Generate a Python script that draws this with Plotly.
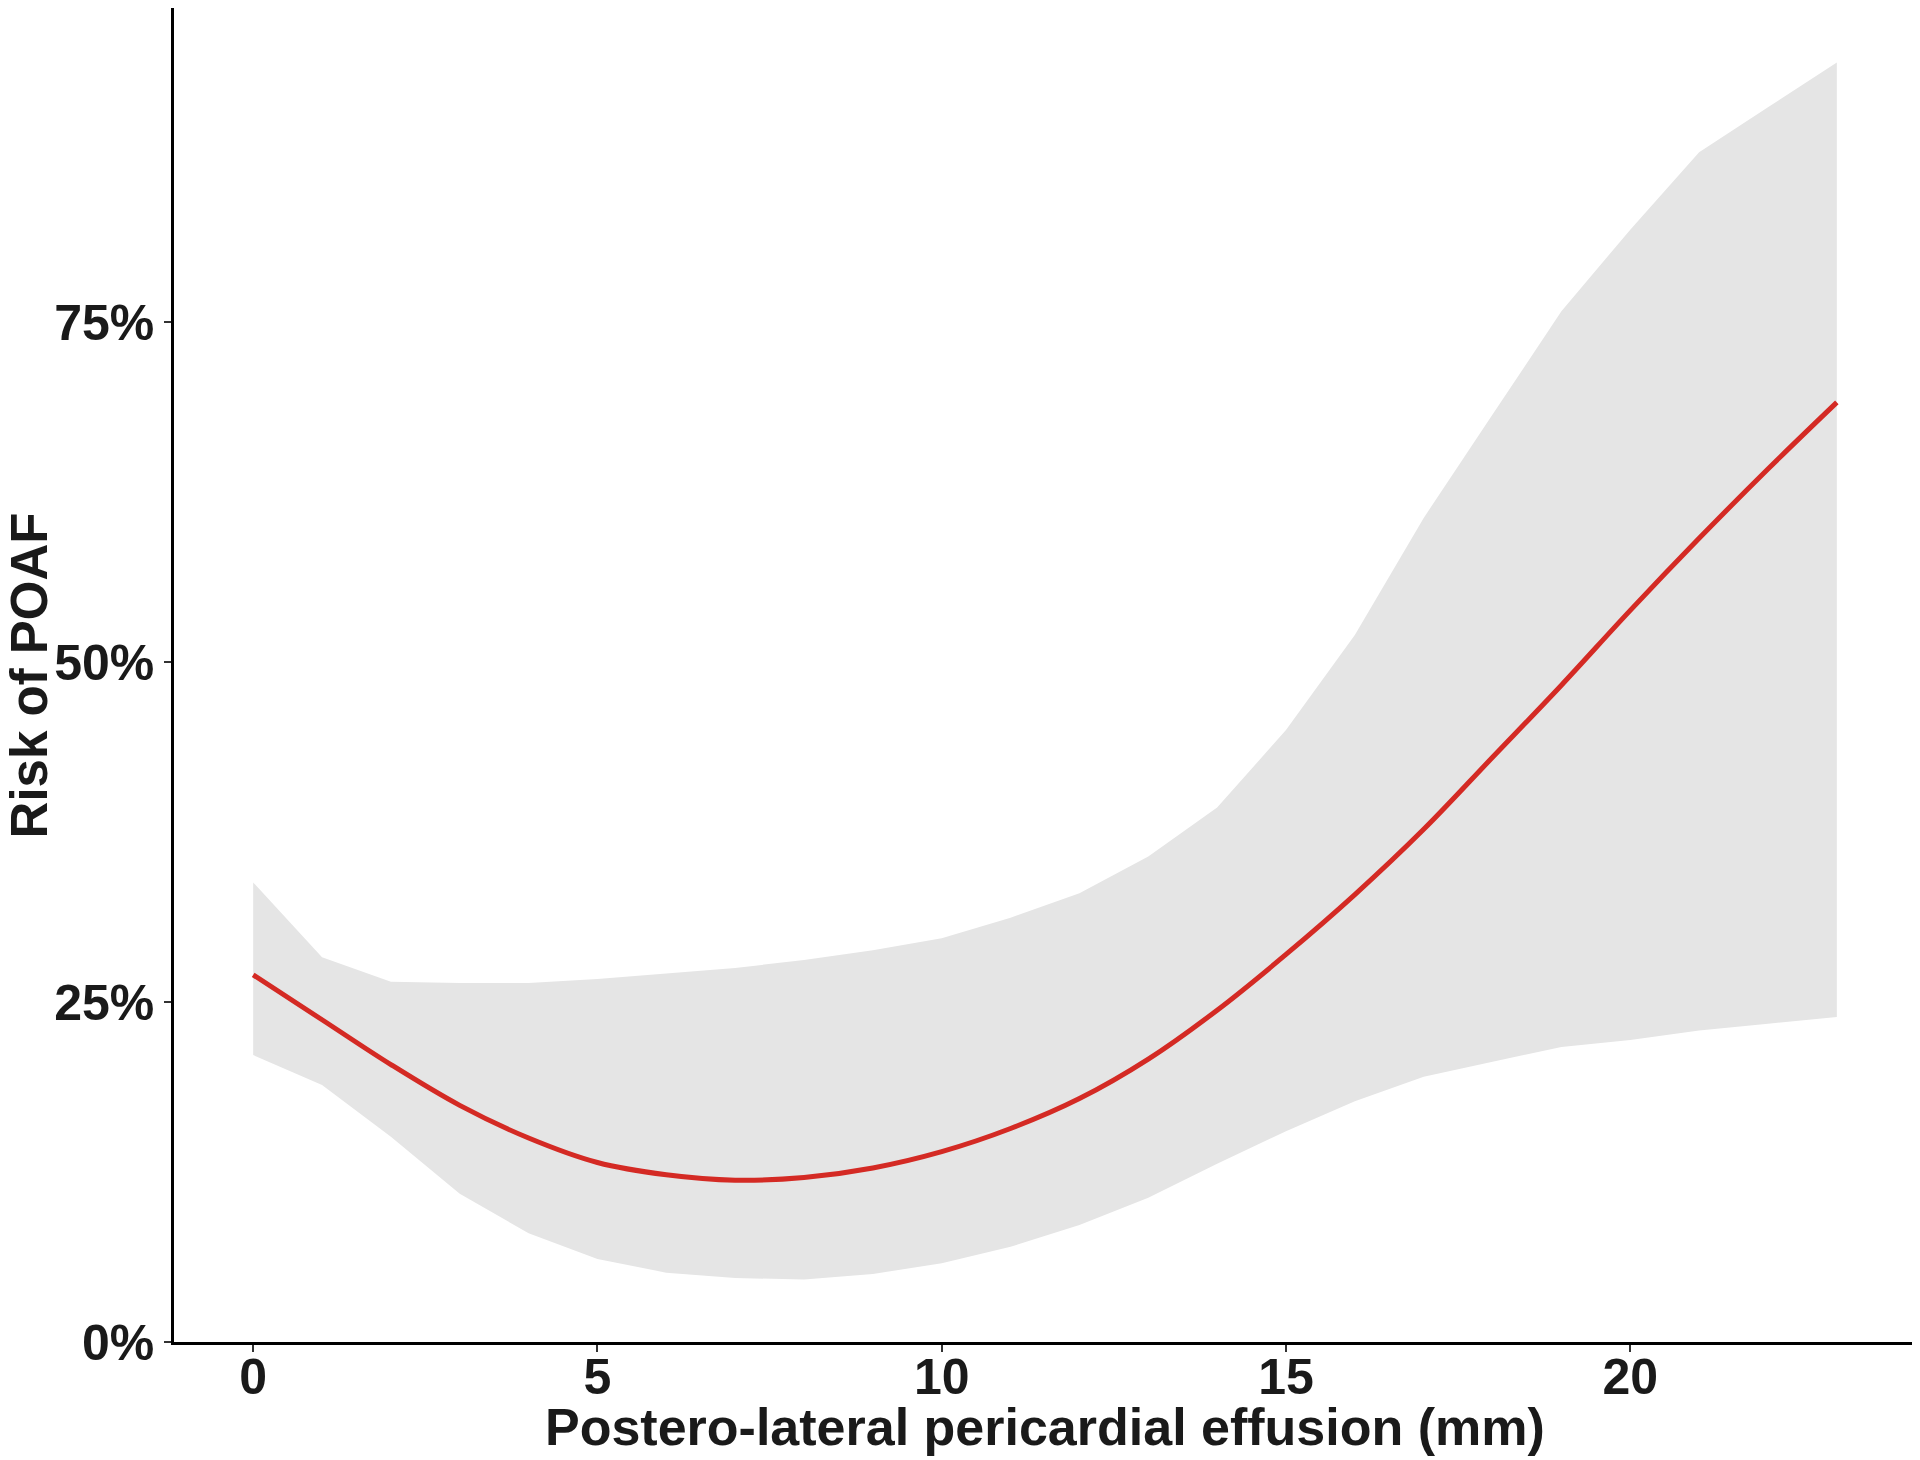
import plotly.graph_objects as go

# Effusion thickness (mm)
effusion_mm = list(range(0, 24))

# Predicted risk of POAF (red curve)
risk = [0.270, 0.237, 0.204, 0.174, 0.150, 0.132, 0.123, 0.119, 0.121, 0.128,
        0.140, 0.157, 0.179, 0.208, 0.244, 0.285, 0.329, 0.377, 0.430, 0.483,
        0.538, 0.591, 0.642, 0.691]

# Confidence band
upper = [0.338, 0.283, 0.265, 0.264, 0.264, 0.267, 0.271, 0.275, 0.281, 0.288,
         0.297, 0.312, 0.330, 0.357, 0.393, 0.450, 0.520, 0.606, 0.682, 0.758,
         0.818, 0.875, 0.908, 0.941]
lower = [0.211, 0.189, 0.151, 0.109, 0.080, 0.061, 0.051, 0.047, 0.046, 0.050,
         0.058, 0.070, 0.086, 0.106, 0.131, 0.155, 0.177, 0.195, 0.206, 0.217,
         0.222, 0.229, 0.234, 0.239]

x_ticks = [0, 5, 10, 15, 20]
y_ticks = [0, 0.25, 0.5, 0.75]
y_tick_labels = ["0%", "25%", "50%", "75%"]

FONT = "Liberation Sans, Arial, sans-serif"
TEXT = "#1a1a1a"

fig = go.Figure()

# Lower edge of the band (invisible)
fig.add_trace(
    go.Scatter(
        x=effusion_mm,
        y=lower,
        mode="lines",
        line=dict(width=0, color="rgba(0,0,0,0)"),
        showlegend=False,
        hoverinfo="skip",
    )
)

# Upper edge filled down to the lower edge
fig.add_trace(
    go.Scatter(
        x=effusion_mm,
        y=upper,
        mode="lines",
        line=dict(width=0, color="rgba(0,0,0,0)"),
        fill="tonexty",
        fillcolor="#e5e5e5",
        showlegend=False,
        hoverinfo="skip",
    )
)

# Risk curve
fig.add_trace(
    go.Scatter(
        x=effusion_mm,
        y=risk,
        mode="lines",
        line=dict(color="#d42a24", width=5, shape="spline"),
        showlegend=False,
    )
)

axis_common = dict(
    showline=True,
    linecolor="black",
    linewidth=2.5,
    ticks="outside",
    ticklen=7,
    tickwidth=2,
    tickcolor="#333333",
    showgrid=False,
    zeroline=False,
    automargin=False,
    tickfont=dict(family=FONT, size=50, color=TEXT, weight="bold"),
)

fig.update_xaxes(range=[-1.15, 24.15], tickvals=x_ticks, ticklabelstandoff=-18, **axis_common)
fig.update_yaxes(
    range=[0, 0.981],
    tickvals=y_ticks,
    ticktext=y_tick_labels,
    **axis_common,
)

# Axis titles placed as annotations for exact positioning
fig.add_annotation(
    text="<b>Postero-lateral pericardial effusion (mm)</b>",
    xref="paper", yref="paper",
    x=0.5, y=-0.0637,
    xanchor="center", yanchor="middle",
    showarrow=False,
    font=dict(family=FONT, size=52, color=TEXT),
)
fig.add_annotation(
    text="<b>Risk of POAF</b>",
    xref="paper", yref="paper",
    x=-0.083, y=0.5,
    xanchor="center", yanchor="middle",
    textangle=-90,
    showarrow=False,
    font=dict(family=FONT, size=51, color=TEXT),
)

# The page body adds an 8px offset, so the figure is 8px smaller on each side
fig.update_layout(
    width=1912,
    height=1452,
    paper_bgcolor="white",
    plot_bgcolor="white",
    margin=dict(l=166, r=4, t=0, b=118),
    showlegend=False,
)

fig.write_html("out.html")
